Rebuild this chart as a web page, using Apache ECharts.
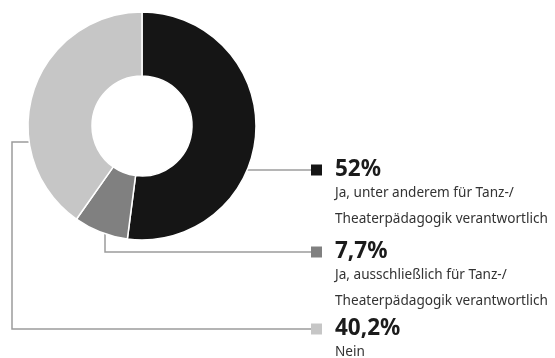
<!DOCTYPE html>
<html>
<head>
<meta charset="utf-8">
<script src="https://cdn.jsdelivr.net/npm/echarts@6/dist/echarts.min.js"></script>
<style>
  html, body { margin: 0; padding: 0; background: #ffffff; }
  #chart { width: 555px; height: 358px; }
</style>
</head>
<body>
<div id="chart"></div>
<script>
// Survey answers: share of respondents (percent)
const shares = [52, 7.7, 40.2];
const headlines = [
  ['Ja, unter anderem für Tanz-/', 'Theaterpädagogik verantwortlich'],
  ['Ja, ausschließlich für Tanz-/', 'Theaterpädagogik verantwortlich'],
  ['Nein']
];
const sliceColors = ['#151515', '#808080', '#c6c6c6'];

// Donut geometry
const CX = 142, CY = 126, R_IN = 50, R_OUT = 114;
// Legend column: marker left edge and vertical position of each entry
const LEGEND_X = 311;
const LEGEND_Y = [170, 252, 329];

const fmtPct = v => String(v).replace('.', ',') + '%';

// Point on the outer rim at a given y (right or left side)
function rimAtY(y, side) {
  const dy = y - CY;
  const dx = Math.sqrt(R_OUT * R_OUT - dy * dy);
  return [CX + side * dx, y];
}
function rimAtX(x) {
  const dx = x - CX;
  const dy = Math.sqrt(R_OUT * R_OUT - dx * dx);
  return [x, CY + dy];
}

// Leader line routes from the rim to each legend marker
function leaderPoints(i) {
  const ly = LEGEND_Y[i];
  if (i === 0) {
    return [rimAtY(ly, 1), [LEGEND_X, ly]];
  }
  if (i === 1) {
    const start = rimAtX(105);
    return [start, [105, ly], [LEGEND_X, ly]];
  }
  const start = rimAtY(142, -1);
  return [start, [12, 142], [12, ly], [LEGEND_X, ly]];
}

const rich = {
  p: { fontFamily: 'Noto Sans', fontWeight: 'bold', fontSize: 22.5, color: '#1b1b1b', lineHeight: 20, padding: [0, 0, 0, 13] },
  d: { fontFamily: 'Noto Sans', fontSize: 13.6, color: '#333333', lineHeight: 26, padding: [0, 0, 0, 24] }
};
sliceColors.forEach((c, i) => {
  rich['m' + i] = { width: 11, height: 11, backgroundColor: c, lineHeight: 20 };
});

const data = shares.map((v, i) => ({
  value: v,
  name: headlines[i].join(' '),
  itemStyle: { color: sliceColors[i] }
}));

const chart = echarts.init(document.getElementById('chart'), null, { renderer: 'canvas' });
chart.setOption({
  backgroundColor: '#ffffff',
  animation: false,
  series: [{
    type: 'pie',
    center: [CX, CY],
    radius: [R_IN, R_OUT],
    startAngle: 90,
    clockwise: true,
    silent: true,
    avoidLabelOverlap: false,
    itemStyle: { borderColor: '#ffffff', borderWidth: 1.5 },
    label: {
      show: true,
      position: 'outer',
      alignTo: 'none',
      overflow: 'none',
      formatter: p => {
        const i = p.dataIndex;
        return '{m' + i + '|}{p|' + fmtPct(shares[i]) + '}\n' +
          headlines[i].map(t => '{d|' + t + '}').join('\n');
      },
      rich: rich
    },
    labelLine: {
      show: true,
      smooth: false,
      lineStyle: { color: '#9c9c9c', width: 1.5 }
    },
    labelLayout: params => {
      const i = params.dataIndex;
      return {
        x: LEGEND_X,
        y: LEGEND_Y[i] - 10,
        align: 'left',
        verticalAlign: 'top',
        hideOverlap: false,
        moveOverlap: null,
        labelLinePoints: leaderPoints(i)
      };
    },
    data: data
  }]
});
</script>
</body>
</html>
